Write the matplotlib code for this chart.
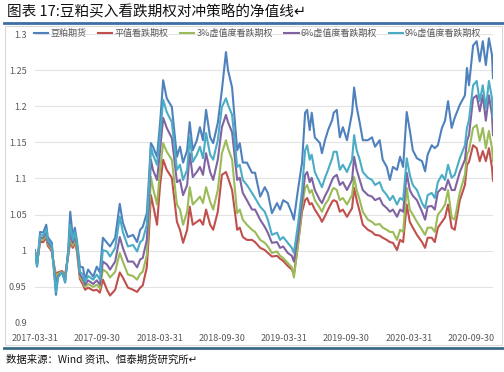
import matplotlib
matplotlib.use("Agg")
import matplotlib.pyplot as plt
from matplotlib.lines import Line2D
from matplotlib.patches import Rectangle

plt.rcParams['font.family'] = ['Noto Sans CJK SC', 'DejaVu Sans']

# trading-day index since 2017-03-31
days = [0, 4, 10, 16, 22, 25, 33, 35, 41, 45, 53, 59, 65, 69, 74, 78, 82, 88, 94, 98,
        104, 114, 121, 127, 133, 141, 147, 157, 166, 172, 182, 192, 200, 206, 211, 219, 223, 227, 231, 239,
        245, 251, 258, 268, 278, 284, 290, 298, 303, 309, 317, 323, 329, 335, 343, 349, 358, 366, 374, 378,
        386, 396, 401, 407, 415, 425, 431, 441, 450, 456, 464, 474, 480, 486, 495, 503, 507, 515, 523, 529,
        533, 538, 542, 548, 558, 562, 568, 574, 582, 585, 591, 597, 603, 611, 621, 625, 630, 636, 642, 652,
        660, 666, 675, 681, 689, 695, 701, 709, 715, 721, 728, 734, 740, 748, 758, 764, 769, 777, 783, 789,
        797, 803, 809, 816, 822, 832, 842, 846, 850, 858, 865, 871, 877, 883, 889, 895, 897]

futures = [1.001, 0.978, 1.026, 1.025, 1.036, 1.019, 1.011, 0.992, 0.939, 0.964, 0.971, 0.956, 1.001, 1.054, 1.019, 1.032, 1.015, 0.978, 0.977, 0.960,
           0.974, 0.964, 0.978, 0.970, 1.018, 1.011, 1.006, 1.018, 1.065, 1.039, 1.019, 1.022, 1.012, 1.029, 1.033, 1.052, 1.098, 1.149, 1.144, 1.130,
           1.177, 1.236, 1.211, 1.199, 1.130, 1.144, 1.122, 1.139, 1.178, 1.139, 1.153, 1.171, 1.153, 1.195, 1.157, 1.149, 1.177, 1.222, 1.275, 1.250,
           1.226, 1.139, 1.149, 1.122, 1.122, 1.108, 1.108, 1.075, 1.088, 1.080, 1.052, 1.066, 1.057, 1.070, 1.066, 1.052, 1.043, 1.084, 1.122, 1.191,
           1.195, 1.167, 1.191, 1.157, 1.149, 1.135, 1.153, 1.167, 1.181, 1.191, 1.195, 1.157, 1.171, 1.153, 1.191, 1.226, 1.199, 1.177, 1.153, 1.153,
           1.157, 1.144, 1.153, 1.126, 1.116, 1.098, 1.116, 1.112, 1.130, 1.116, 1.192, 1.167, 1.139, 1.128, 1.124, 1.110, 1.133, 1.146, 1.142, 1.146,
           1.170, 1.180, 1.207, 1.170, 1.184, 1.202, 1.215, 1.253, 1.229, 1.284, 1.290, 1.262, 1.290, 1.257, 1.294, 1.271, 1.239]

put_atm = [0.997, 0.983, 1.012, 1.012, 1.018, 1.007, 0.999, 0.988, 0.967, 0.970, 0.972, 0.967, 0.993, 1.012, 1.004, 1.011, 1.000, 0.961, 0.953, 0.946,
           0.949, 0.945, 0.946, 0.942, 0.960, 0.946, 0.938, 0.946, 0.970, 0.963, 0.949, 0.946, 0.943, 0.949, 0.952, 0.977, 1.022, 1.077, 1.064, 1.036,
           1.091, 1.126, 1.112, 1.101, 1.040, 1.029, 1.011, 1.029, 1.061, 1.036, 1.040, 1.043, 1.036, 1.057, 1.036, 1.029, 1.054, 1.105, 1.109, 1.101,
           1.084, 1.029, 1.032, 1.019, 1.015, 1.015, 1.012, 1.004, 1.001, 0.997, 0.992, 0.993, 0.989, 0.986, 0.979, 0.974, 0.967, 1.008, 1.054, 1.070,
           1.073, 1.064, 1.066, 1.057, 1.046, 1.040, 1.048, 1.057, 1.068, 1.070, 1.068, 1.054, 1.057, 1.047, 1.059, 1.087, 1.070, 1.054, 1.036, 1.029,
           1.026, 1.022, 1.021, 1.018, 1.015, 1.012, 1.011, 1.001, 1.015, 1.012, 1.064, 1.040, 1.032, 1.022, 1.012, 1.004, 1.018, 1.018, 1.012, 1.032,
           1.040, 1.046, 1.064, 1.032, 1.029, 1.070, 1.091, 1.119, 1.123, 1.146, 1.142, 1.124, 1.138, 1.124, 1.142, 1.115, 1.097]

put_otm3 = [0.999, 0.982, 1.015, 1.015, 1.022, 1.010, 1.001, 0.989, 0.963, 0.968, 0.971, 0.964, 0.994, 1.018, 1.007, 1.015, 1.003, 0.964, 0.957, 0.950,
            0.954, 0.950, 0.953, 0.948, 0.974, 0.970, 0.963, 0.971, 0.997, 0.985, 0.967, 0.965, 0.960, 0.968, 0.971, 0.994, 1.043, 1.102, 1.087, 1.064,
            1.112, 1.149, 1.137, 1.126, 1.064, 1.057, 1.036, 1.054, 1.088, 1.064, 1.070, 1.075, 1.066, 1.088, 1.068, 1.057, 1.084, 1.135, 1.153, 1.142,
            1.126, 1.052, 1.057, 1.043, 1.036, 1.029, 1.026, 1.015, 1.011, 1.006, 0.997, 0.999, 0.993, 0.990, 0.983, 0.977, 0.963, 1.008, 1.061, 1.087,
            1.091, 1.080, 1.084, 1.070, 1.059, 1.054, 1.064, 1.070, 1.084, 1.087, 1.084, 1.070, 1.073, 1.064, 1.077, 1.102, 1.084, 1.070, 1.054, 1.043,
            1.040, 1.036, 1.037, 1.032, 1.029, 1.026, 1.026, 1.015, 1.029, 1.026, 1.087, 1.057, 1.050, 1.040, 1.029, 1.022, 1.032, 1.032, 1.026, 1.050,
            1.057, 1.064, 1.084, 1.046, 1.043, 1.081, 1.105, 1.133, 1.139, 1.170, 1.174, 1.152, 1.170, 1.142, 1.166, 1.142, 1.124]

put_otm6 = [0.999, 0.981, 1.018, 1.018, 1.026, 1.012, 1.004, 0.990, 0.953, 0.965, 0.970, 0.960, 0.996, 1.026, 1.011, 1.021, 1.007, 0.967, 0.961, 0.953,
            0.959, 0.954, 0.959, 0.953, 0.985, 0.981, 0.974, 0.985, 1.019, 1.004, 0.985, 0.985, 0.977, 0.988, 0.990, 1.015, 1.064, 1.126, 1.112, 1.098,
            1.139, 1.184, 1.170, 1.156, 1.095, 1.098, 1.077, 1.091, 1.135, 1.102, 1.109, 1.116, 1.105, 1.135, 1.109, 1.098, 1.126, 1.171, 1.188, 1.178,
            1.164, 1.098, 1.101, 1.080, 1.070, 1.057, 1.057, 1.043, 1.033, 1.025, 1.011, 1.012, 1.004, 1.006, 0.997, 0.993, 0.985, 1.022, 1.070, 1.105,
            1.109, 1.095, 1.101, 1.084, 1.070, 1.066, 1.076, 1.084, 1.098, 1.102, 1.105, 1.091, 1.095, 1.084, 1.098, 1.130, 1.112, 1.098, 1.084, 1.077,
            1.075, 1.070, 1.073, 1.064, 1.059, 1.054, 1.057, 1.047, 1.057, 1.054, 1.108, 1.084, 1.076, 1.070, 1.054, 1.043, 1.061, 1.062, 1.057, 1.081,
            1.087, 1.084, 1.098, 1.084, 1.084, 1.109, 1.126, 1.152, 1.160, 1.211, 1.215, 1.193, 1.215, 1.180, 1.215, 1.188, 1.160]

put_otm9 = [0.999, 0.979, 1.022, 1.021, 1.030, 1.015, 1.007, 0.990, 0.943, 0.963, 0.970, 0.957, 0.999, 1.036, 1.015, 1.026, 1.011, 0.971, 0.967, 0.957,
            0.965, 0.960, 0.967, 0.960, 1.001, 0.999, 0.992, 1.004, 1.047, 1.026, 1.006, 1.008, 0.999, 1.012, 1.015, 1.036, 1.084, 1.144, 1.133, 1.119,
            1.160, 1.209, 1.192, 1.178, 1.112, 1.119, 1.098, 1.112, 1.157, 1.123, 1.133, 1.144, 1.128, 1.163, 1.133, 1.126, 1.153, 1.199, 1.211, 1.202,
            1.188, 1.116, 1.119, 1.098, 1.091, 1.080, 1.073, 1.061, 1.054, 1.043, 1.022, 1.025, 1.015, 1.019, 1.011, 1.004, 0.997, 1.036, 1.084, 1.139,
            1.146, 1.126, 1.133, 1.109, 1.094, 1.088, 1.101, 1.112, 1.128, 1.137, 1.137, 1.112, 1.119, 1.109, 1.126, 1.160, 1.139, 1.126, 1.109, 1.101,
            1.098, 1.091, 1.095, 1.084, 1.077, 1.070, 1.076, 1.064, 1.073, 1.070, 1.128, 1.105, 1.091, 1.084, 1.066, 1.059, 1.077, 1.080, 1.073, 1.095,
            1.105, 1.098, 1.119, 1.101, 1.105, 1.128, 1.146, 1.170, 1.181, 1.229, 1.235, 1.207, 1.229, 1.197, 1.235, 1.211, 1.184]

series_names = ['豆粕期货', '平值看跌期权', '3%虚值度看跌期权', '6%虚值度看跌期权', '9%虚值度看跌期权']
series_colors = ['#4F81BD', '#C0504D', '#9BBB59', '#8064A2', '#4BACC6']

tick_days = [0, 122, 244, 366, 488, 610, 732, 854]
tick_labels = ['2017-03-31', '2017-09-30', '2018-03-31', '2018-09-30',
               '2019-03-31', '2019-09-30', '2020-03-31', '2020-09-30']

title = '图表 17:豆粕买入看跌期权对冲策略的净值线'
source = '数据来源：Wind 资讯、恒泰期货研究所'

fig = plt.figure(figsize=(5.04, 3.72), dpi=100)
ax = fig.add_axes([35 / 504, 1 - 323 / 372, 458 / 504, 289 / 372])

for vals, name, col in zip([futures, put_atm, put_otm3, put_otm6, put_otm9], series_names, series_colors):
    ax.plot(days, vals, color=col, lw=1.5, label=name, solid_joinstyle='round')

ax.set_xlim(0, 897)
ax.set_ylim(0.9, 1.3)
ax.set_yticks([0.9, 0.95, 1.0, 1.05, 1.1, 1.15, 1.2, 1.25, 1.3])
ax.set_yticklabels(['0.9', '0.95', '1', '1.05', '1.1', '1.15', '1.2', '1.25', '1.3'])
ax.set_xticks(tick_days)
ax.set_xticklabels(tick_labels)
ax.tick_params(axis='both', length=0, labelsize=6.5, colors='#595959')
ax.tick_params(axis='x', pad=8)
ax.tick_params(axis='y', pad=6)
ax.grid(axis='y', color='#E3E3E3', lw=0.8)
ax.set_axisbelow(True)
for s in ax.spines.values():
    s.set_visible(False)

leg = ax.legend(loc='upper left', bbox_to_anchor=(-0.01, 1.03), ncol=5, frameon=False,
                fontsize=6.5, handlelength=1.6, handletextpad=0.2, columnspacing=1.3,
                borderaxespad=0)
for t in leg.get_texts():
    t.set_color('#595959')

# frame and rules
fig.add_artist(Rectangle((5 / 504, 1 - 345 / 372), 497 / 504, 319 / 372, transform=fig.transFigure,
                         fill=False, edgecolor='#D9D9D9', lw=0.8))
fig.add_artist(Line2D([4 / 504, 503 / 504], [1 - 23 / 372, 1 - 23 / 372], color='#3C6EA6', lw=2))
fig.add_artist(Line2D([4 / 504, 503 / 504], [1 - 348 / 372, 1 - 348 / 372], color='#3B6C86', lw=2))

fig.text(7 / 504, 1 - 12 / 372, title + '\u21b5', fontsize=10.5, va='center', ha='left', color='#111111')
fig.text(6 / 504, 1 - 360 / 372, source + '\u21b5', fontsize=7.5, va='center', ha='left', color='#111111')

fig.savefig('out.png', dpi=100)
